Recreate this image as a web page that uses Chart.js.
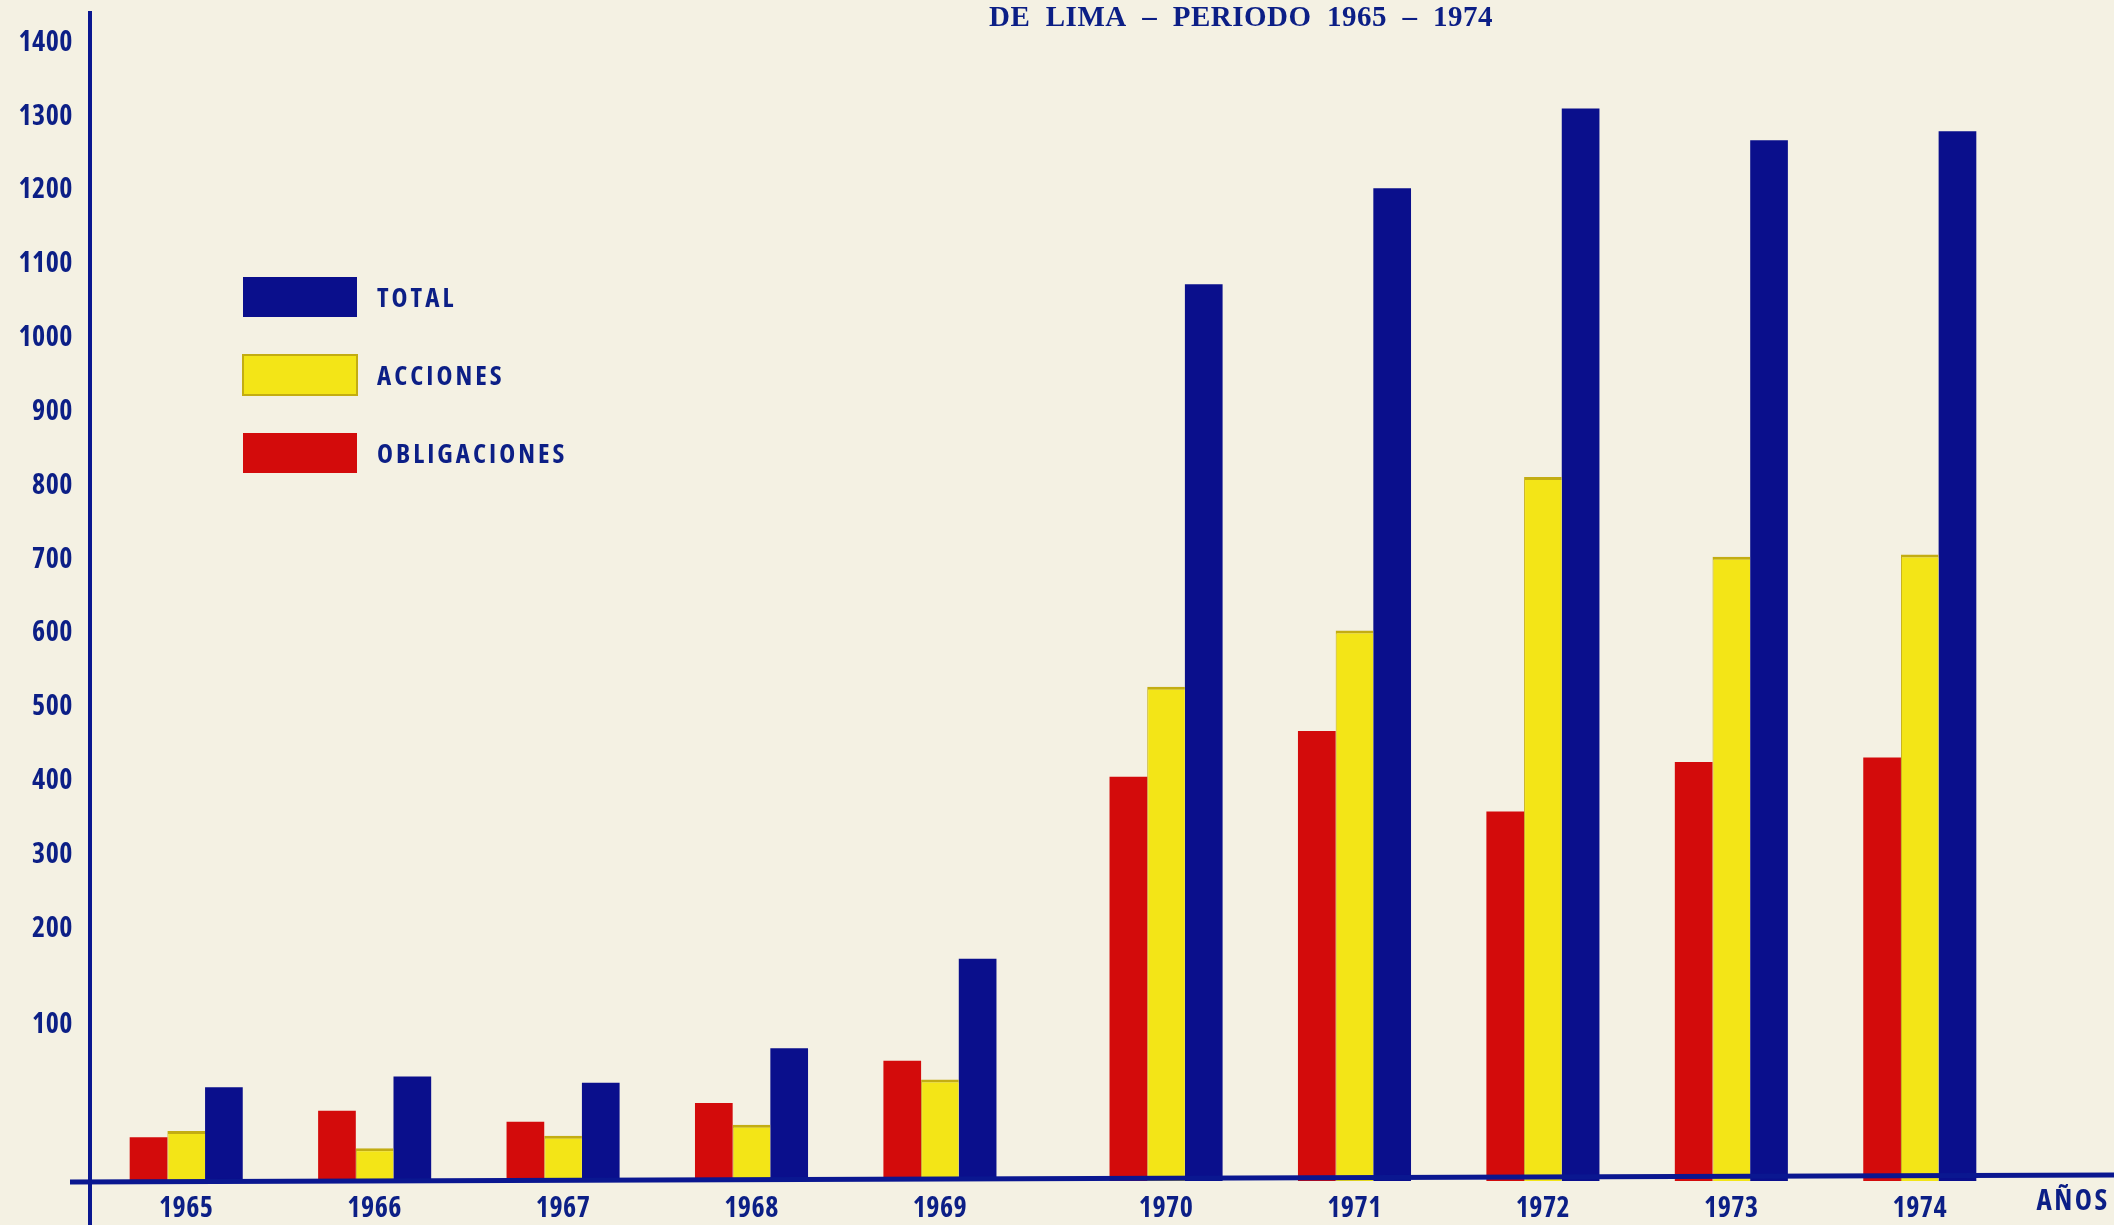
<!DOCTYPE html>
<html>
<head>
<meta charset="utf-8">
<script src="https://cdn.jsdelivr.net/npm/chart.js@4.4.0/dist/chart.umd.min.js"></script>
<style>
  html, body { margin: 0; padding: 0; background: #f4f1e3; }
  #wrap { position: relative; width: 2114px; height: 1225px; }
</style>
</head>
<body>
<div id="wrap"><canvas id="c"></canvas></div>
<script>
// ---- data ----
const CATEGORIES   = ['1965','1966','1967','1968','1969','1970','1971','1972','1973','1974'];
const OBLIGACIONES = [28, 45, 38, 50, 77, 406, 468, 359, 426, 432];
const ACCIONES     = [32, 21, 29, 36, 65, 528, 604, 812, 704, 707];
const TOTAL        = [60, 67, 63, 85, 169, 1073, 1203, 1311, 1268, 1280];
const Y_TICKS      = [100, 200, 300, 400, 500, 600, 700, 800, 900, 1000, 1100, 1200, 1300, 1400];
const SERIES_LABELS = ['OBLIGACIONES', 'ACCIONES', 'TOTAL'];

// ---- piecewise (broken) vertical scale of the original drawing ----
const Y_KNOT_VALUES = [0, 100, 200, 1443];
const Y_KNOT_UNITS  = [0, 156, 252, 252 + 1243 * 0.738];
// the original leaves a wider gap between 1969 and 1970
const X_GAP_INDEX = 5;
const X_GAP = 0.2;

function toUnits(v) {
  const kv = Y_KNOT_VALUES, ku = Y_KNOT_UNITS;
  if (v <= kv[0]) return ku[0];
  for (let i = 1; i < kv.length; i++) {
    if (v <= kv[i] || i === kv.length - 1) {
      return ku[i-1] + (v - kv[i-1]) / (kv[i] - kv[i-1]) * (ku[i] - ku[i-1]);
    }
  }
}
function fromUnits(u) {
  const kv = Y_KNOT_VALUES, ku = Y_KNOT_UNITS;
  for (let i = 1; i < ku.length; i++) {
    if (u <= ku[i] || i === ku.length - 1) {
      return kv[i-1] + (u - ku[i-1]) / (ku[i] - ku[i-1]) * (kv[i] - kv[i-1]);
    }
  }
}

class PiecewiseScale extends Chart.LinearScale {
  getPixelForValue(value) {
    const u0 = toUnits(this.min), u1 = toUnits(this.max);
    const u = toUnits(value);
    return this.bottom - (u - u0) / (u1 - u0) * (this.bottom - this.top);
  }
  getValueForPixel(pixel) {
    const u0 = toUnits(this.min), u1 = toUnits(this.max);
    const u = u0 + (this.bottom - pixel) / (this.bottom - this.top) * (u1 - u0);
    return fromUnits(u);
  }
}
PiecewiseScale.id = 'piecewise';
PiecewiseScale.defaults = {};

class GapCategoryScale extends Chart.CategoryScale {
  getPixelForValue(value) {
    if (typeof value !== 'number') value = this.parse(value);
    if (value === null || value === undefined || isNaN(value)) return NaN;
    const v = value + (value >= X_GAP_INDEX ? X_GAP : 0);
    return this.getPixelForDecimal((v - this._startValue) / (this._valueRange + X_GAP));
  }
}
GapCategoryScale.id = 'gapcategory';
GapCategoryScale.defaults = {};
Chart.register(PiecewiseScale, GapCategoryScale);

// ---- pick a narrow sans face that is available ----
function pickFont() {
  const ctx = document.createElement('canvas').getContext('2d');
  const cands = [
    { family: '"Noto Sans"', stretch: 'semi-condensed', size: 28, leg: 27, ls: 3 },
    { family: '"Open Sans"', stretch: 'semi-condensed', size: 28, leg: 27, ls: 3 },
    { family: 'Inter', stretch: 'semi-condensed', size: 27, leg: 26, ls: 3 },
    { family: '"DejaVu Sans Condensed"', stretch: '', size: 24, leg: 22, ls: 1.5 }
  ];
  for (const c of cands) {
    if (!c.stretch) return c;
    ctx.font = `bold 27px ${c.family}, monospace`;
    const w0 = ctx.measureText('1400 OBLIGACIONES').width;
    ctx.font = `bold ${c.stretch} 27px ${c.family}, monospace`;
    const w1 = ctx.measureText('1400 OBLIGACIONES').width;
    if (w1 < w0 * 0.95) return c;
  }
  return cands[cands.length - 1];
}
const F = pickFont();
const FAM = `${F.family}, "DejaVu Sans Condensed", sans-serif`;
const WEIGHT = F.stretch ? `bold ${F.stretch}` : 'bold';

const INK = '#0c1f86';
const NAVY = '#0a0f8c';
const YELLOW = '#f3e517';
const RED = '#d30b0b';
const AXIS = '#0a1790';

const spacing = {
  id: 'spacing',
  beforeDraw(chart) { chart.ctx.letterSpacing = '0.5px'; }
};

const decor = {
  id: 'decor',
  afterDraw(chart) {
    const ctx = chart.ctx, a = chart.chartArea;
    ctx.save();
    // axis lines (extended like the original)
    ctx.strokeStyle = AXIS;
    ctx.lineWidth = 4;
    ctx.beginPath();
    ctx.moveTo(a.left - 2, a.top);
    ctx.lineTo(a.left - 2, chart.height);
    ctx.stroke();
    ctx.lineWidth = 5;
    ctx.beginPath();
    ctx.moveTo(a.left - 22, a.bottom + 1);
    ctx.lineTo(chart.width, a.bottom - 6);
    ctx.stroke();

    // title (partial, top of page)
    ctx.fillStyle = INK;
    ctx.font = 'bold 29px "Liberation Serif", "DejaVu Serif", serif';
    ctx.textAlign = 'center';
    ctx.textBaseline = 'middle';
    ctx.letterSpacing = '0.5px';
    ctx.fillText('DE  LIMA  –  PERIODO  1965  –  1974', 1241, 19);

    // AÑOS
    ctx.font = `${WEIGHT} 29px ${FAM}`;
    ctx.letterSpacing = '2.5px';
    ctx.fillText('AÑOS', 2073, 1202);

    // legend (reverse dataset order, as in the original)
    const ds = chart.data.datasets.slice().reverse();
    const rowsY = [297, 375, 453];
    ctx.textAlign = 'left';
    ctx.font = `${WEIGHT} ${F.leg}px ${FAM}`;
    ctx.letterSpacing = F.ls + 'px';
    ds.forEach((d, i) => {
      const y = rowsY[i];
      ctx.fillStyle = d.backgroundColor;
      ctx.fillRect(243, y - 20, 114, 40);
      if (d.label === 'ACCIONES') {
        ctx.strokeStyle = '#c3ad12';
        ctx.lineWidth = 2;
        ctx.strokeRect(243, y - 20, 114, 40);
      }
      ctx.fillStyle = INK;
      ctx.fillText(d.label, 377, y + 2);
    });
    ctx.restore();
    ctx.letterSpacing = '0px';
  }
};

new Chart(document.getElementById('c'), {
  type: 'bar',
  data: {
    labels: CATEGORIES,
    datasets: [
      { label: SERIES_LABELS[0], data: OBLIGACIONES, backgroundColor: RED, borderWidth: 0 },
      { label: SERIES_LABELS[1], data: ACCIONES, backgroundColor: YELLOW,
        borderColor: '#c3ad12', borderWidth: { top: 3, left: 1, right: 0, bottom: 0 }, borderSkipped: 'bottom' },
      { label: SERIES_LABELS[2], data: TOTAL, backgroundColor: NAVY, borderWidth: 0 }
    ]
  },
  options: {
    responsive: true,
    maintainAspectRatio: false,
    animation: false,
    devicePixelRatio: 1,
    layout: { padding: { top: 11, right: 100, left: 0, bottom: 0 } },
    categoryPercentage: 0.6,
    barPercentage: 1.0,
    plugins: {
      legend: { display: false },
      title: { display: false },
      tooltip: { enabled: false }
    },
    scales: {
      x: {
        type: 'gapcategory',
        grid: { display: false, drawTicks: false },
        border: { display: false },
        ticks: {
          color: INK,
          padding: 11,
          maxRotation: 0,
          autoSkip: false,
          font: { family: FAM, size: F.size, weight: WEIGHT }
        },
        afterFit(s) { s.height = 44; s.paddingLeft = 0; s.paddingRight = 0; }
      },
      y: {
        type: 'piecewise',
        min: 0,
        max: 1443,
        grid: { display: false, drawTicks: false },
        border: { display: false },
        afterBuildTicks(s) { s.ticks = Y_TICKS.map(v => ({ value: v })); },
        ticks: {
          color: INK,
          padding: 19,
          callback: (v) => String(v),
          font: { family: FAM, size: F.size, weight: WEIGHT }
        },
        afterFit(s) { s.width = 92; s.paddingTop = 0; s.paddingBottom = 0; }
      }
    }
  },
  plugins: [spacing, decor]
});
</script>
</body>
</html>
